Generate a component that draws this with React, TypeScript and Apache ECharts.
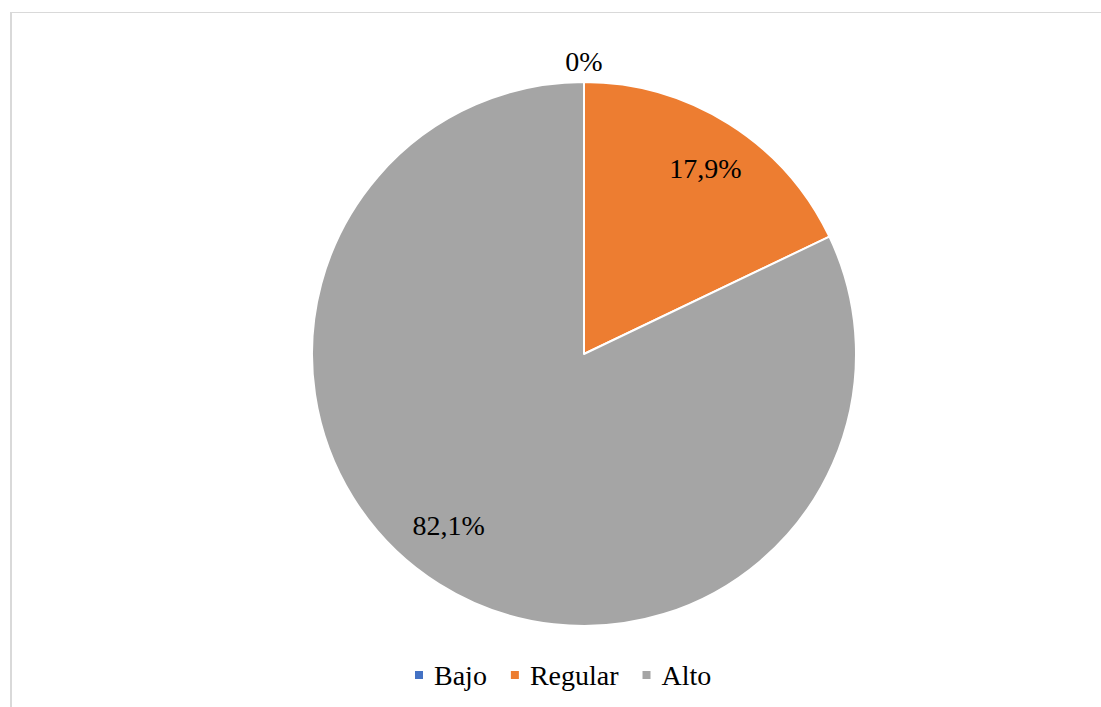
import React, { useEffect, useRef } from "react";
import * as echarts from "echarts";

const categories = ["Bajo", "Regular", "Alto"];
const values = [0, 17.9, 82.1];
const valueLabels = ["0%", "17,9%", "82,1%"];
const colors = ["#4472C4", "#ED7D31", "#A5A5A5"];

export default function App() {
  const ref = useRef<HTMLDivElement>(null);
  useEffect(() => {
    if (!ref.current) return;
    const chart = echarts.init(ref.current, null, { renderer: "svg" });
    const font = "Liberation Serif";
    const labelStyle = {
      show: true,
      position: "inside",
      fontFamily: font,
      fontSize: 28,
      color: "#000",
      formatter: (p: any) => valueLabels[p.dataIndex],
    };
    chart.setOption({
      animation: false,
      textStyle: { fontFamily: font },
      legend: {
        top: 656,
        left: 408,
        data: categories,
        icon: "rect",
        itemWidth: 10,
        itemHeight: 10,
        itemGap: 22,
        textStyle: { fontFamily: font, fontSize: 28, color: "#000", padding: [0, 0, 0, 5] },
      },
      series: [
        {
          type: "pie",
          center: [584, 354],
          radius: [0, 272],
          startAngle: 90,
          clockwise: true,
          avoidLabelOverlap: false,
          label: { show: false },
          labelLine: { show: false },
          itemStyle: { borderColor: "#fff", borderWidth: 2 },
          emphasis: { disabled: true },
          data: categories.map((c, i) => ({
            name: c,
            value: values[i],
            itemStyle: { color: colors[i] },
          })),
        },
        {
          type: "pie",
          center: [584, 354],
          radius: [0, 442],
          startAngle: 90,
          silent: true,
          avoidLabelOverlap: false,
          legendHoverLink: false,
          itemStyle: { color: "transparent", borderWidth: 0 },
          label: labelStyle,
          labelLine: { show: false },
          emphasis: { disabled: true },
          data: categories.map((c, i) => ({
            name: c + " ",
            value: values[i],
            label: { show: i !== 0, offset: i === 2 ? [-16, -18] : [2, 4] },
          })),
        },
        {
          type: "pie",
          center: [584, 354],
          radius: [0, 584],
          startAngle: 90,
          silent: true,
          avoidLabelOverlap: false,
          legendHoverLink: false,
          itemStyle: { color: "transparent", borderWidth: 0 },
          label: labelStyle,
          labelLine: { show: false },
          emphasis: { disabled: true },
          data: categories.map((c, i) => ({
            name: c + "  ",
            value: values[i],
            label: { show: i === 0, offset: [0, 2] },
          })),
        },
      ],
    });
    return () => chart.dispose();
  }, []);
  return (
    <div style={{ position: "absolute", left: 0, top: 0, width: 1101, height: 707, overflow: "hidden", background: "#fff" }}>
      <div
        style={{
          position: "absolute",
          left: 10,
          top: 12,
          width: 1200,
          height: 800,
          borderTop: "1px solid #d9d9d9",
          borderLeft: "2px solid #d9d9d9",
        }}
      />
      <div ref={ref} style={{ position: "absolute", left: 0, top: 0, width: 1101, height: 707 }} />
    </div>
  );
}
